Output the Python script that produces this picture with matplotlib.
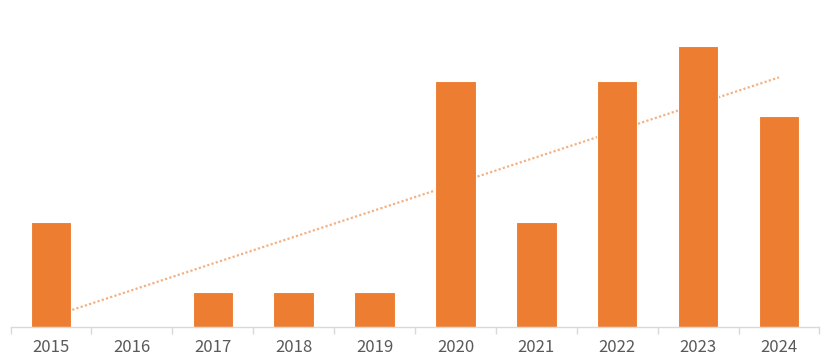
import matplotlib
matplotlib.use('Agg')
import matplotlib.pyplot as plt
import numpy as np

years = ['2015', '2016', '2017', '2018', '2019', '2020', '2021', '2022', '2023', '2024']
counts = [3, 0, 1, 1, 1, 7, 3, 7, 8, 6]

BAR_COLOR = '#ED7D31'

plt.rcParams['font.family'] = ['Noto Sans CJK SC', 'DejaVu Sans']

fig = plt.figure(figsize=(8.3, 3.62), dpi=100)
# axes placed in pixel terms: left 10.6, right 819.4, bottom at y=327
ax = fig.add_axes([10.6 / 830, 35 / 362, 808.8 / 830, 316 / 362])

x = np.arange(len(years))
y = np.array(counts, dtype=float)

# linear trendline, drawn behind the bars
z = np.polyfit(x, y, 1)
p = np.poly1d(z)
ax.plot(x, p(x), linestyle=(0, (1, 1)), color='#F4B183', linewidth=1.6, zorder=1)

ax.bar(x, counts, width=0.5, color=BAR_COLOR, edgecolor='white', linewidth=0.8, zorder=2)

ax.set_xlim(-0.5, len(years) - 0.5)
ax.set_ylim(0, 9)

for side in ['top', 'right', 'left']:
    ax.spines[side].set_visible(False)
ax.spines['bottom'].set_color('#D9D9D9')
ax.spines['bottom'].set_linewidth(1)
ax.set_yticks([])

# tick marks sit on category boundaries, labels centred under bars
ax.set_xticks(np.arange(-0.5, len(years), 1.0))
ax.set_xticklabels([])
ax.tick_params(axis='x', which='major', length=5, color='#D9D9D9', width=1)
ax.set_xticks(x, minor=True)
ax.set_xticklabels(years, minor=True)
ax.tick_params(axis='x', which='minor', length=0, pad=9, labelsize=12, labelcolor='#595959')

fig.savefig('out.png', dpi=100)
